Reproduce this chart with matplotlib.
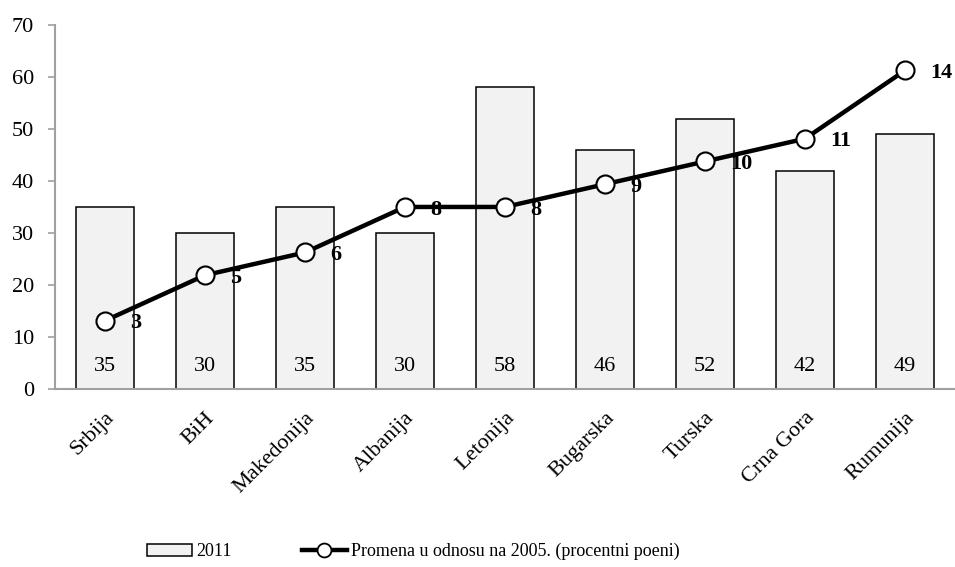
import matplotlib
matplotlib.use('Agg')
import matplotlib.pyplot as plt
from matplotlib.patches import Patch
from matplotlib.lines import Line2D

countries = ['Srbija', 'BiH', 'Makedonija', 'Albanija', 'Letonija',
             'Bugarska', 'Turska', 'Crna Gora', 'Rumunija']
values_2011 = [35, 30, 35, 30, 58, 46, 52, 42, 49]
change_2005 = [3, 5, 6, 8, 8, 9, 10, 11, 14]

plt.rcParams['font.family'] = ['Liberation Serif', 'DejaVu Serif']

fig = plt.figure(figsize=(9.55, 5.67), dpi=100)
ax = fig.add_axes([0.0576, 0.314, 0.9424, 0.642])
x = list(range(len(countries)))

ax.bar(x, values_2011, width=0.58, color='#f2f2f2', edgecolor='black', linewidth=1.1, zorder=2)
for xi, v in zip(x, values_2011):
    ax.text(xi, 4.4, str(v), ha='center', va='center', fontsize=16)

ax.set_xlim(-0.5, len(countries) - 0.5)
ax.set_ylim(0, 70)
ax.set_yticks(range(0, 71, 10))
ax.tick_params(axis='y', labelsize=16, color='#a0a0a0', length=5, width=1.2, pad=10)
ax.tick_params(axis='x', length=0, labelsize=16, pad=14)
ax.set_xticks(x)
ax.set_xticklabels(countries, rotation=45, ha='right', rotation_mode='anchor')
for s in ['top', 'right']:
    ax.spines[s].set_visible(False)
ax.spines['left'].set_color('#a0a0a0')
ax.spines['bottom'].set_color('#a0a0a0')
ax.spines['left'].set_linewidth(1.5)
ax.spines['bottom'].set_linewidth(1.5)

# right-hand scale for the change line, not shown
ax2 = ax.twinx()
ax2.set_ylim(0, 16)
ax2.axis('off')
ax2.plot(x, change_2005, color='black', linewidth=3.2, marker='o', markersize=13,
         markerfacecolor='white', markeredgecolor='black', markeredgewidth=1.5, zorder=3)
for xi, v in zip(x, change_2005):
    ax2.annotate(str(v), (xi, v), xytext=(18, -2), textcoords='offset points',
                 ha='left', va='center', fontsize=16, fontweight='bold')

handles = [Patch(facecolor='#f2f2f2', edgecolor='black', linewidth=1.1),
           Line2D([0], [0], color='black', linewidth=3.2, marker='o', markersize=10,
                  markerfacecolor='white', markeredgecolor='black', markeredgewidth=1.3)]
fig.legend(handles, ['2011', 'Promena u odnosu na 2005. (procentni poeni)'],
           loc='center left', bbox_to_anchor=(0.137, 0.027), ncol=2, frameon=False,
           fontsize=13, handlelength=2.5, handletextpad=0.2, columnspacing=3.9)

fig.savefig('out.png', dpi=100)
